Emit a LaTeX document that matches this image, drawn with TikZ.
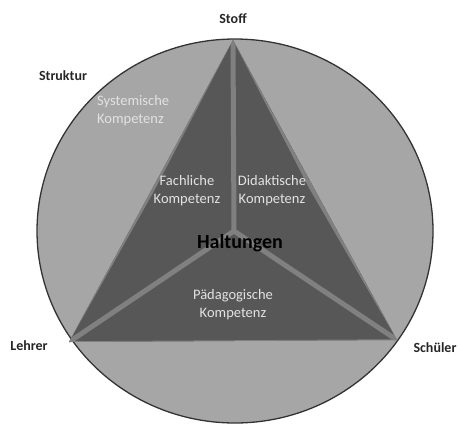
\documentclass[tikz,border=0pt]{standalone}
\usepackage{fontspec}
\setmainfont{Carlito}
\usepackage{tikz}
\usetikzlibrary{calc}
\definecolor{ringgray}{HTML}{A6A6A6}
\definecolor{facegray}{HTML}{575757}
\definecolor{edgegray}{HTML}{808080}
\definecolor{textgray}{HTML}{E2E2E2}
\tikzset{
  pole/.style={font=\bfseries\fontsize{14}{17}\selectfont, text=black!85},
  komp/.style={font=\fontsize{14.5}{18}\selectfont, text=textgray, align=center, inner sep=0pt}
}

\begin{document}
\begin{tikzpicture}[x=1pt, y=-1pt]
          \useasboundingbox (0,0) rectangle (460,424);
          \draw[fill=ringgray, draw=black!80, line width=1.3pt] (235,231) ellipse (198 and 192);

          \coordinate (StoffV) at (233,40);
          \coordinate (LehrerV) at (69,342);
          \coordinate (SchuelerV) at (397,340);
          \coordinate (Mitte) at (234,231);

          \fill[facegray] (StoffV) -- (LehrerV) -- (SchuelerV) -- cycle;
          \begin{scope}
            \clip (StoffV) -- (LehrerV) -- (SchuelerV) -- cycle;
            \fill[edgegray] (StoffV) -- (SchuelerV) -- ($(StoffV)!0.5!(SchuelerV)+(-6,-2)$) -- cycle;
            \fill[edgegray] (StoffV) -- (LehrerV) -- ($(StoffV)!0.5!(LehrerV)+(2.5,1)$) -- cycle;
            \draw[edgegray, line width=1.5pt] (LehrerV) -- (SchuelerV);
            \draw[edgegray, line width=5pt] (Mitte) -- (StoffV);
            \draw[edgegray, line width=5pt] (Mitte) -- (LehrerV);
            \draw[edgegray, line width=5pt] (Mitte) -- (SchuelerV);
          \end{scope}

          \node[pole] (Stoff) at (233,19) {Stoff};
          \node[pole] (Struktur) at (63,76) {Struktur};
          \node[pole] (Lehrer) at (29,346) {Lehrer};
          \node[pole] (Schueler) at (435,348) {Schüler};

          \node[komp, align=left, anchor=west] (Systemisch) at (97,111) {Systemische\\Kompetenz};
          \node[komp] (Fachlich) at (187,191) {Fachliche\\Kompetenz};
          \node[komp] (Didaktisch) at (272,191) {Didaktische\\Kompetenz};
          \node[komp] (Paedagogisch) at (233,305) {Pädagogische\\Kompetenz};
          \node[font=\bfseries\fontsize{20}{22}\selectfont, text=black] (Haltungen) at (240,243) {Haltungen};
        \end{tikzpicture}
\end{document}
